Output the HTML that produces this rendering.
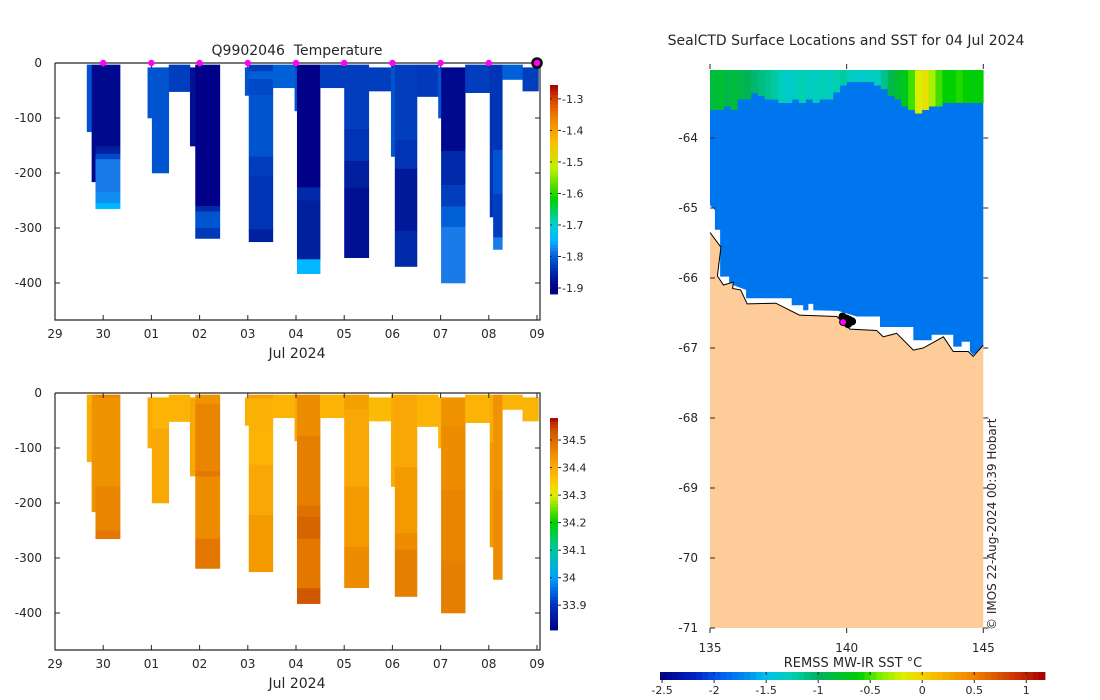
<!DOCTYPE html>
<html><head><meta charset="utf-8"><style>
html,body{margin:0;padding:0;background:#fff;}
svg{display:block;font-family:"DejaVu Sans","Liberation Sans",sans-serif;}
text{fill:#262626;white-space:pre;}
</style></head><body>
<svg id="fig" width="1100" height="700" viewBox="0 0 1100 700" xmlns="http://www.w3.org/2000/svg"></svg>
<script>
// ---------- DATA ----------
const dayLabels = ["29","30","01","02","03","04","05","06","07","08","09"];
const depthTicks = [0,-100,-200,-300,-400];
const profStart = [0.66,0.76,0.84,1.92,2.01,2.36,2.80,2.91,3.94,4.02,4.52,4.97,5.02,5.50,6.00,6.51,6.97,7.05,7.51,7.95,8.01,8.51,9.02,9.09,9.28,9.70];
const profEnd   = [0.76,0.84,1.35,2.01,2.36,2.80,2.91,3.42,4.02,4.52,4.97,5.02,5.50,6.00,6.51,6.97,7.05,7.51,7.95,8.01,8.51,9.02,9.09,9.28,9.70,10.03];
const profTop   = [3,3,3,8,8,3,8,3,8,3,3,3,3,3,3,8,3,3,3,8,8,3,3,3,3,8];
const tempLayers = [
 [[125,-1.81]],
 [[216,-1.89]],
 [[152,-1.89],[165,-1.86],[175,-1.82],[235,-1.78],[255,-1.77],[265,-1.75]],
 [[100,-1.81]],
 [[200,-1.81]],
 [[52,-1.83]],
 [[151,-1.88]],
 [[260,-1.90],[270,-1.85],[300,-1.81],[319,-1.835]],
 [[59,-1.81]],
 [[15,-1.835],[29,-1.80],[58,-1.82],[170,-1.81],[205,-1.83],[302,-1.84],[325,-1.86]],
 [[45,-1.80]],
 [[87,-1.81]],
 [[226,-1.90],[250,-1.85],[357,-1.86],[383,-1.75]],
 [[45,-1.83]],
 [[120,-1.83],[178,-1.84],[227,-1.86],[354,-1.88]],
 [[51,-1.83]],
 [[170,-1.81]],
 [[140,-1.83],[192,-1.84],[305,-1.87],[370,-1.85]],
 [[61,-1.835]],
 [[100,-1.81]],
 [[160,-1.89],[222,-1.85],[261,-1.83],[298,-1.80],[400,-1.78]],
 [[54,-1.83]],
 [[280,-1.84]],
 [[158,-1.84],[238,-1.81],[317,-1.83],[339,-1.78]],
 [[30,-1.80]],
 [[51,-1.83]]
];
const salLayers = [
 [[20,34.38],[125,34.40]],
 [[216,34.44]],
 [[8,34.46],[170,34.44],[250,34.46],[265,34.48]],
 [[100,34.40]],
 [[65,34.38],[200,34.41]],
 [[52,34.38]],
 [[151,34.41]],
 [[20,34.44],[142,34.46],[152,34.48],[265,34.45],[319,34.48]],
 [[59,34.39]],
 [[10,34.42],[70,34.385],[130,34.38],[222,34.41],[325,34.43]],
 [[45,34.38]],
 [[87,34.41]],
 [[78,34.45],[205,34.47],[225,34.49],[265,34.51],[355,34.48],[383,34.53]],
 [[45,34.38]],
 [[30,34.42],[170,34.41],[280,34.43],[354,34.45]],
 [[51,34.37]],
 [[170,34.40]],
 [[135,34.41],[255,34.43],[285,34.45],[370,34.47]],
 [[61,34.38]],
 [[100,34.38]],
 [[60,34.44],[175,34.45],[305,34.46],[400,34.47]],
 [[54,34.38]],
 [[90,34.40],[280,34.43]],
 [[175,34.44],[339,34.45]],
 [[30,34.38]],
 [[51,34.38]]
];
const markerDays = [1,2,3,4,5,6,7,8,9];
const lastMarkerDay = [10];
const tempTicks = [-1.3,-1.4,-1.5,-1.6,-1.7,-1.8,-1.9];
const salTicks = [34.5,34.4,34.3,34.2,34.1,34,33.9];
const sstTicks = [-2.5,-2,-1.5,-1,-0.5,0,0.5,1];
const latTicks = [-64,-65,-66,-67,-68,-69,-70,-71];
const lonTicks = [135,140,145];
const coastLon = [135.00,135.40,135.27,135.49,135.85,135.83,136.12,136.36,137.41,138.27,139.64,140.12,141.10,141.34,141.83,142.44,142.80,143.54,143.90,144.45,144.63,145.00];
const coastLat = [-65.35,-65.56,-65.97,-66.10,-66.06,-66.15,-66.17,-66.37,-66.36,-66.53,-66.55,-66.73,-66.75,-66.84,-66.79,-67.03,-67.00,-66.84,-67.05,-67.05,-67.12,-66.96];
const oceanLon = [135.00,135.18,135.18,135.37,135.37,135.70,135.70,136.32,136.32,137.99,137.99,138.41,138.41,138.60,138.60,138.78,138.78,139.69,140.37,141.22,141.22,142.44,142.44,143.11,143.11,143.90,143.90,144.21,144.21,144.51,144.51,144.63,145.00];
const oceanLat = [-64.96,-65.03,-65.31,-65.31,-65.98,-65.98,-66.08,-66.17,-66.29,-66.29,-66.39,-66.39,-66.46,-66.46,-66.37,-66.37,-66.46,-66.47,-66.55,-66.55,-66.70,-66.70,-66.89,-66.89,-66.81,-66.81,-66.98,-66.98,-66.91,-66.91,-67.05,-67.10,-66.98];
const oceanSST = -1.8;
const bandLon0 = 135, bandStep = 0.25;
const bandVals = [-0.85,-0.8,-0.9,-0.85,-0.9,-0.95,-1.05,-1.1,-1.15,-1.2,-1.3,-1.35,-1.3,-1.25,-1.3,-1.3,-1.25,-1.3,-1.25,-1.2,-1.3,-1.35,-1.35,-1.3,-1.3,-1.15,-0.9,-0.8,-0.7,-0.5,-0.2,-0.1,-0.3,-0.5,-0.6,-0.6,-0.55,-0.6,-0.65,-0.6];
const bandBottom = [-63.6,-63.6,-63.55,-63.6,-63.45,-63.45,-63.36,-63.4,-63.45,-63.45,-63.5,-63.5,-63.45,-63.5,-63.45,-63.5,-63.45,-63.45,-63.35,-63.25,-63.2,-63.2,-63.2,-63.2,-63.25,-63.3,-63.4,-63.45,-63.55,-63.6,-63.65,-63.6,-63.55,-63.55,-63.5,-63.5,-63.5,-63.5,-63.5,-63.5];
const sealLon = [139.85,140.0,140.1,140.2,139.9,140.05];
const sealLat = [-66.55,-66.58,-66.6,-66.62,-66.63,-66.66];
const sealNowLon = [139.87], sealNowLat = [-66.63];

// ---------- HELPERS ----------
const svg = document.getElementById('fig');
const NS = 'http://www.w3.org/2000/svg';
function mk(tag, attrs, parent){const e=document.createElementNS(NS,tag);for(const k in attrs)e.setAttribute(k,attrs[k]);(parent||svg).appendChild(e);return e;}
function hex(c){return [parseInt(c.substr(1,2),16),parseInt(c.substr(3,2),16),parseInt(c.substr(5,2),16)];}
function cmap(stops){return function(v){if(v<=stops[0][0])return stops[0][1];for(let i=1;i<stops.length;i++){if(v<=stops[i][0]){const a=stops[i-1],b=stops[i];const f=(v-a[0])/(b[0]-a[0]);const A=hex(a[1]),B=hex(b[1]);return 'rgb('+A.map((x,j)=>Math.round(x+(B[j]-x)*f)).join(',')+')';}}return stops[stops.length-1][1];};}
const tempMap = cmap([[-1.919,'#000080'],[-1.90,'#000088'],[-1.86,'#0020a0'],[-1.82,'#0048c8'],[-1.80,'#0060d8'],[-1.78,'#1a7ae8'],[-1.75,'#00b8ff'],[-1.70,'#00d0d0'],[-1.62,'#00d000'],[-1.52,'#c0f000'],[-1.44,'#f8c000'],[-1.36,'#f08000'],[-1.30,'#d84000'],[-1.256,'#a00000']]);
const salMap = cmap([[33.81,'#000080'],[33.9,'#0030c0'],[34.0,'#00a0ff'],[34.1,'#00c8a0'],[34.2,'#00d000'],[34.3,'#e0f000'],[34.35,'#fcc800'],[34.38,'#fbb406'],[34.41,'#f9a705'],[34.43,'#f29a00'],[34.45,'#ee8c00'],[34.47,'#e67e00'],[34.50,'#dc6a00'],[34.53,'#cf5800'],[34.56,'#c03000'],[34.58,'#a00000']]);
const sstMap = cmap([[-2.52,'#000080'],[-2.2,'#0020c0'],[-2.0,'#0050e8'],[-1.75,'#0080f0'],[-1.5,'#00c0f0'],[-1.25,'#00d0b0'],[-1.0,'#00b060'],[-0.6,'#00d000'],[-0.4,'#80f000'],[-0.2,'#d8f000'],[0,'#f8d000'],[0.5,'#f08000'],[1.0,'#c02000'],[1.18,'#a00000']]);

// ---------- SECTION PLOTS ----------
function sectionPlot(name, y0, layers, map, title, withMarkers, cb){
  const X0=55, DX=48.2, PXM=0.55, bottom=y0+257, right=540;
  const xs=d=>X0+d*DX, ys=m=>y0+m*PXM;
  const g=mk('g',{});
  
  
  for(let i=0;i<profStart.length;i++){
    let top=profTop[i];
    for(const [bot,val] of layers[i]){
      const r=mk('rect',{x:xs(profStart[i]),y:ys(top),width:xs(profEnd[i])-xs(profStart[i])+0.3,height:ys(bot)-ys(top)+0.3,fill:map(val)},g);
      
      
      top=bot;
    }
  }
  const ax=mk('path',{d:`M${X0} ${y0}V${bottom}H${right}V${y0}H${X0}`,fill:'none',stroke:'#262626','stroke-width':1.2},g);
  
  
  dayLabels.forEach((l,i)=>{
    const x=xs(i);
    mk('line',{x1:x,x2:x,y1:bottom,y2:bottom-5,stroke:'#262626'},g);
    mk('line',{x1:x,x2:x,y1:y0,y2:y0+5,stroke:'#262626'},g);
    const t=mk('text',{x:x,y:bottom+18,'text-anchor':'middle','font-size':12},g);t.textContent=l;
    
    
  });
  const xt=mk('text',{x:297,y:bottom+38,'text-anchor':'middle','font-size':14},g);xt.textContent='Jul 2024';
  
  
  depthTicks.forEach(d=>{
    const y=ys(-d);
    mk('line',{x1:X0,x2:X0+5,y1:y,y2:y,stroke:'#262626'},g);
    mk('line',{x1:right,x2:right-5,y1:y,y2:y,stroke:'#262626'},g);
    const t=mk('text',{x:X0-13,y:y+4,'text-anchor':'end','font-size':12},g);t.textContent=d;
    
    
  });
  if(title){
    const tt=mk('text',{x:297,y:y0-8,'text-anchor':'middle','font-size':14,'xml:space':'preserve'},g);tt.textContent=title;
    
    
  }
  if(withMarkers){
    markerDays.forEach(d=>{
      const c=mk('circle',{cx:xs(d),cy:y0,r:3.2,fill:'#ff00ff'},g);
      
      
    });
    lastMarkerDay.forEach(d=>{
      const c=mk('circle',{cx:xs(d),cy:y0,r:4.5,fill:'#ff00ff',stroke:'#000','stroke-width':2.5},g);
      
      
    });
  }
  const cg=mk('g',{},g);
  
  
  const cbx=550,cbw=8,N=64;
  for(let k=0;k<N;k++){
    const v=cb.max-(k+0.5)*(cb.max-cb.min)/N;
    mk('rect',{x:cbx,y:cb.top+k*(cb.bot-cb.top)/N,width:cbw,height:(cb.bot-cb.top)/N+0.4,fill:map(v)},cg);
  }
  cb.ticks.forEach(v=>{
    const y=cb.top+(cb.max-v)/(cb.max-cb.min)*(cb.bot-cb.top);
    mk('line',{x1:cbx,x2:cbx+2,y1:y,y2:y,stroke:'#262626'},cg);
    mk('line',{x1:cbx+cbw,x2:cbx+cbw+3,y1:y,y2:y,stroke:'#262626'},cg);
    const t=mk('text',{x:cbx+cbw+4,y:y+4,'font-size':11},cg);t.textContent=v;
    
    
  });
}
sectionPlot('temperature-section',63,tempLayers,tempMap,'Q9902046  Temperature',true,{top:85,bot:294,min:-1.919,max:-1.256,ticks:tempTicks});
sectionPlot('salinity-section',393,salLayers,salMap,null,false,{top:418,bot:630,min:33.81,max:34.58,ticks:salTicks});

// ---------- MAP ----------
(function(){
  const lx=lon=>710+(lon-135)*27.33, ly=lat=>138+(-64-lat)*70;
  const g=mk('g',{});
  
  
  let d=`M${lx(135)} ${ly(-63.03)}H${lx(145)}`;
  for(let i=oceanLon.length-1;i>=0;i--) d+=`L${lx(oceanLon[i])} ${ly(oceanLat[i])}`;
  d+='Z';
  const oc=mk('path',{d:d,fill:sstMap(oceanSST)},g);
  
  
  bandVals.forEach((v,i)=>{
    const l0=bandLon0+i*bandStep;
    const r=mk('rect',{x:lx(l0),y:ly(-63.03),width:lx(l0+bandStep)-lx(l0)+0.3,height:ly(bandBottom[i])-ly(-63.03),fill:sstMap(v)},g);
    
    
  });
  let ld=`M${lx(135)} ${ly(-71)}`;
  coastLon.forEach((lo,i)=>{ld+=`L${lx(lo)} ${ly(coastLat[i])}`;});
  ld+=`L${lx(145)} ${ly(-71)}Z`;
  const land=mk('path',{d:ld,fill:'#fecc99'},g);
  
  
  let cd='';
  coastLon.forEach((lo,i)=>{cd+=(i?'L':'M')+lx(lo)+' '+ly(coastLat[i]);});
  const cl=mk('path',{d:cd,fill:'none',stroke:'#000','stroke-width':1},g);
  
  
  sealLon.forEach((lo,i)=>{
    const c=mk('circle',{cx:lx(lo),cy:ly(sealLat[i]),r:4,fill:'#000'},g);
    
    
  });
  sealNowLon.forEach((lo,i)=>{
    const c=mk('circle',{cx:lx(lo),cy:ly(sealNowLat[i]),r:3.5,fill:'#ff00ff',stroke:'#000','stroke-width':1},g);
    
    
  });
  latTicks.forEach(la=>{
    const y=ly(la);
    mk('line',{x1:lx(135),x2:lx(135)+5,y1:y,y2:y,stroke:'#262626'},g);
    mk('line',{x1:lx(145),x2:lx(145)+5,y1:y,y2:y,stroke:'#262626'},g);
    const t=mk('text',{x:698,y:y+4,'text-anchor':'end','font-size':12},g);t.textContent=la;
    
    
  });
  lonTicks.forEach(lo=>{
    const x=lx(lo);
    mk('line',{x1:x,x2:x,y1:ly(-71),y2:ly(-71)+5,stroke:'#262626'},g);
    mk('line',{x1:x,x2:x,y1:64,y2:69,stroke:'#262626'},g);
    const t=mk('text',{x:x,y:652,'text-anchor':'middle','font-size':12},g);t.textContent=lo;
    
    
  });
  const tt=mk('text',{x:846,y:45,'text-anchor':'middle','font-size':14},g);tt.textContent='SealCTD Surface Locations and SST for 04 Jul 2024';
  
  
  const cr=mk('text',{x:0,y:0,'font-size':12,transform:'translate(996,630) rotate(-90)'},g);cr.textContent='© IMOS 22-Aug-2024 00:39 Hobart';
  
  
  const cg=mk('g',{},g);
  
  
  const x0=660,x1=1045,mn=-2.52,mx=1.18,N=64,cy=672,ch=8;
  for(let k=0;k<N;k++){
    const v=mn+(k+0.5)*(mx-mn)/N;
    mk('rect',{x:x0+k*(x1-x0)/N,y:cy,width:(x1-x0)/N+0.4,height:ch,fill:sstMap(v)},cg);
  }
  sstTicks.forEach(v=>{
    const x=x0+(v-mn)/(mx-mn)*(x1-x0);
    mk('line',{x1:x,x2:x,y1:cy,y2:cy+3,stroke:'#262626'},cg);
    mk('line',{x1:x,x2:x,y1:cy+ch,y2:cy+ch+3,stroke:'#262626'},cg);
    const t=mk('text',{x:x,y:694,'text-anchor':'middle','font-size':11},cg);t.textContent=v;
    
    
  });
  const ct=mk('text',{x:853,y:667,'text-anchor':'middle','font-size':13},cg);ct.textContent='REMSS MW-IR SST °C';
  
  
})();
</script>
</body></html>
